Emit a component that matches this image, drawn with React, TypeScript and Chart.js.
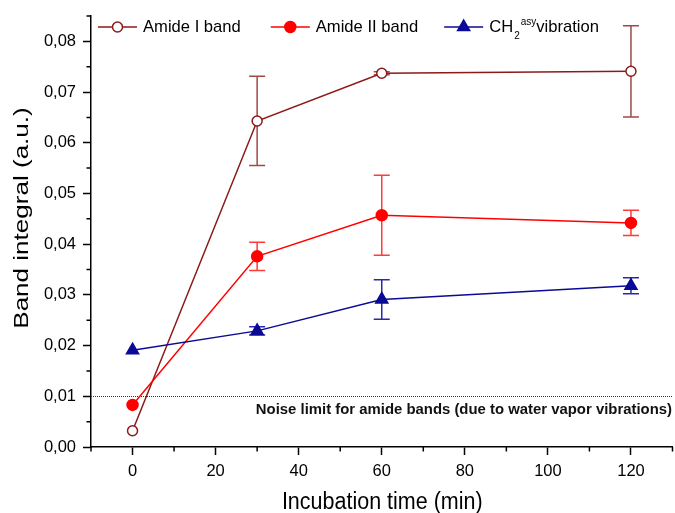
import React, { useEffect, useRef } from 'react';
import { Chart, registerables } from 'chart.js';

Chart.register(...registerables);

// ---- data ----
const times = [0, 30, 60, 120];
const amideI = [0.0032, 0.0643, 0.0737, 0.0741];
const amideIErr = [0, 0.0088, 0.0003, 0.009];
const amideII = [0.0083, 0.0376, 0.0457, 0.0442];
const amideIIErr = [0, 0.0028, 0.0079, 0.0025];
const ch2 = [0.0191, 0.0229, 0.0291, 0.0318];
const ch2Err = [0, 0.0008, 0.0039, 0.0016];

const seriesNames = ['Amide I band', 'Amide II band', 'CH'];
const ch2Sub = '2';
const ch2Sup = 'asy';
const ch2Tail = 'vibration';

const xTicks = [0, 20, 40, 60, 80, 100, 120];
const xMinor = [-10, 10, 30, 50, 70, 90, 110, 130];
const yTicks = [0, 0.01, 0.02, 0.03, 0.04, 0.05, 0.06, 0.07, 0.08];
const yMinor = [0.005, 0.015, 0.025, 0.035, 0.045, 0.055, 0.065, 0.075, 0.085];

const noiseLimit = 0.01;
const noiseLabel = 'Noise limit for amide bands (due to water vapor vibrations)';
const xTitle = 'Incubation time (min)';
const yTitle = 'Band integral (a.u.)';

const FONT = '"Liberation Sans", Arial, sans-serif';

const colors = ['#8B1A1A', '#FF0000', '#0A0A96'];
const errColors = ['#A04848', '#FF3A3A', '#2A2AA8'];
const errs = [amideIErr, amideIIErr, ch2Err];
const values = [amideI, amideII, ch2];
const legendGaps = [30, 26, 0];

function drawMarker(ctx: CanvasRenderingContext2D, i: number, x: number, y: number) {
  ctx.save();
  ctx.lineWidth = 1.5;
  ctx.strokeStyle = colors[i];
  ctx.fillStyle = i === 0 ? '#FFFFFF' : colors[i];
  ctx.beginPath();
  if (i === 2) {
    const r = 7;
    let rad = 0;
    ctx.moveTo(x + Math.sin(rad) * r, y - Math.cos(rad) * r);
    rad += (2 * Math.PI) / 3;
    ctx.lineTo(x + Math.sin(rad) * r, y - Math.cos(rad) * r);
    rad += (2 * Math.PI) / 3;
    ctx.lineTo(x + Math.sin(rad) * r, y - Math.cos(rad) * r);
    ctx.closePath();
  } else {
    ctx.arc(x, y, i === 0 ? 5 : 5.5, 0, Math.PI * 2);
  }
  ctx.fill();
  ctx.stroke();
  ctx.restore();
}

const extrasPlugin = {
  id: 'extras',
  beforeDatasetsDraw(chart: any) {
    const { ctx, chartArea: ca, scales } = chart;
    const xs = scales.x;
    const ys = scales.y;
    // noise line
    ctx.save();
    ctx.strokeStyle = '#333';
    ctx.lineWidth = 1;
    ctx.setLineDash([1, 1]);
    const ny = Math.round(ys.getPixelForValue(noiseLimit)) + 0.5;
    ctx.beginPath();
    ctx.moveTo(ca.left, ny);
    ctx.lineTo(ca.right, ny);
    ctx.stroke();
    ctx.setLineDash([]);
    ctx.font = 'bold 14.9px ' + FONT;
    ctx.fillStyle = '#111';
    ctx.textAlign = 'right';
    ctx.textBaseline = 'middle';
    ctx.fillText(noiseLabel, ca.right - 0.5, ny + 13);
    ctx.restore();

    // error bars
    ctx.save();
    ctx.lineWidth = 1.5;
    values.forEach((vals, i) => {
      ctx.strokeStyle = errColors[i];
      vals.forEach((v, j) => {
        const e = errs[i][j];
        if (!e) return;
        const x = xs.getPixelForValue(times[j]);
        const yt = ys.getPixelForValue(v + e);
        const yb = ys.getPixelForValue(v - e);
        ctx.beginPath();
        ctx.moveTo(x, yt);
        ctx.lineTo(x, yb);
        ctx.moveTo(x - 8, yt);
        ctx.lineTo(x + 8, yt);
        ctx.moveTo(x - 8, yb);
        ctx.lineTo(x + 8, yb);
        ctx.stroke();
      });
    });
    ctx.restore();
  },
  afterDraw(chart: any) {
    const { ctx, chartArea: ca, scales } = chart;
    const xs = scales.x;
    const ys = scales.y;
    // minor ticks
    ctx.save();
    ctx.strokeStyle = '#000';
    ctx.lineWidth = 1.5;
    ctx.beginPath();
    yMinor.forEach((v) => {
      const y = ys.getPixelForValue(v);
      ctx.moveTo(ca.left, y);
      ctx.lineTo(ca.left - 4.5, y);
    });
    xMinor.forEach((v) => {
      const x = xs.getPixelForValue(v);
      ctx.moveTo(x, ca.bottom);
      ctx.lineTo(x, ca.bottom + 4.5);
    });
    ctx.stroke();
    ctx.restore();

    // axis titles
    ctx.save();
    ctx.fillStyle = '#000';
    ctx.font = '21.5px ' + FONT;
    ctx.textAlign = 'center';
    ctx.textBaseline = 'alphabetic';
    ctx.save();
    ctx.translate((ca.left + ca.right) / 2 + 0.5, 509);
    ctx.scale(1, 1.15);
    ctx.fillText(xTitle, 0, 0);
    ctx.restore();
    ctx.save();
    ctx.font = '21px ' + FONT;
    ctx.translate(28, (ca.top + ca.bottom) / 2 - 13.5);
    ctx.rotate(-Math.PI / 2);
    ctx.scale(1.24, 1);
    ctx.fillText(yTitle, 0, 0);
    ctx.restore();
    ctx.restore();

    // legend
    ctx.save();
    const ly = 27;
    let x = ca.left + 7;
    const mainFont = '16.6px ' + FONT;
    const smallFont = '10px ' + FONT;
    ctx.textBaseline = 'middle';
    ctx.textAlign = 'left';
    seriesNames.forEach((name, i) => {
      ctx.strokeStyle = colors[i];
      ctx.lineWidth = 1.5;
      ctx.beginPath();
      ctx.moveTo(x, ly);
      ctx.lineTo(x + 39, ly);
      ctx.stroke();
      drawMarker(ctx, i, x + 19.5, ly);
      let tx = x + 45;
      ctx.fillStyle = '#000';
      ctx.font = mainFont;
      ctx.fillText(name, tx, ly);
      tx += ctx.measureText(name).width;
      if (i === 2) {
        ctx.font = smallFont;
        ctx.fillText(ch2Sub, tx + 1, ly + 9);
        tx += ctx.measureText(ch2Sub).width + 2;
        ctx.fillText(ch2Sup, tx, ly - 5);
        tx += ctx.measureText(ch2Sup).width;
        ctx.font = mainFont;
        ctx.fillText(ch2Tail, tx, ly);
        tx += ctx.measureText(ch2Tail).width;
      }
      x = tx + legendGaps[i];
    });
    ctx.restore();
  },
};

export default function App() {
  const ref = useRef<HTMLCanvasElement | null>(null);
  useEffect(() => {
    if (!ref.current) return;
    Chart.defaults.color = '#000';
    const mk = (i: number) => ({
      label: seriesNames[i],
      data: times.map((t, j) => ({ x: t, y: values[i][j] })),
      borderColor: colors[i],
      backgroundColor: i === 0 ? '#FFFFFF' : colors[i],
      pointBorderColor: colors[i],
      pointBackgroundColor: i === 0 ? '#FFFFFF' : colors[i],
      borderWidth: 1.5,
      pointBorderWidth: 1.5,
      pointRadius: i === 0 ? 5 : i === 1 ? 5.5 : 7,
      pointStyle: i === 2 ? 'triangle' : 'circle',
      tension: 0,
      fill: false,
    });
    const chart = new Chart(ref.current, {
      type: 'line',
      data: { datasets: [mk(2), mk(1), mk(0)] },
      options: {
        animation: false,
        responsive: false,
        layout: { autoPadding: false, padding: { top: 16, right: 2.5, left: 0, bottom: 0 } },
        plugins: { legend: { display: false }, tooltip: { enabled: false } },
        scales: {
          x: {
            type: 'linear',
            min: -10,
            max: 130,
            afterBuildTicks: (s: any) => {
              s.ticks = xTicks.map((v) => ({ value: v }));
            },
            afterFit: (s: any) => {
              s.height = 66;
              s.paddingLeft = 0;
              s.paddingRight = 0;
            },
            ticks: { font: { family: FONT, size: 16.5 }, color: '#000', padding: 7, maxRotation: 0 },
            grid: { drawOnChartArea: false, tickLength: 8, tickColor: '#000', tickWidth: 1.5, color: '#000' },
            border: { color: '#000', width: 1.5 },
          },
          y: {
            type: 'linear',
            min: 0,
            max: 0.085,
            afterBuildTicks: (s: any) => {
              s.ticks = yTicks.map((v) => ({ value: v }));
            },
            afterFit: (s: any) => {
              s.width = 91;
              s.paddingTop = 0;
              s.paddingBottom = 0;
            },
            ticks: {
              font: { family: FONT, size: 16.5 },
              color: '#000',
              padding: 7,
              callback: (v: any) => Number(v).toFixed(2).replace('.', ','),
            },
            grid: { drawOnChartArea: false, tickLength: 8, tickColor: '#000', tickWidth: 1.5, color: '#000' },
            border: { color: '#000', width: 1.5 },
          },
        },
      },
      plugins: [extrasPlugin],
    } as any);
    return () => chart.destroy();
  }, []);
  return (
    <div style={{ position: 'absolute', left: 0, top: 0, width: 675, height: 513, background: '#fff' }}>
      <canvas ref={ref} width={675} height={513} style={{ display: 'block' }} />
    </div>
  );
}
